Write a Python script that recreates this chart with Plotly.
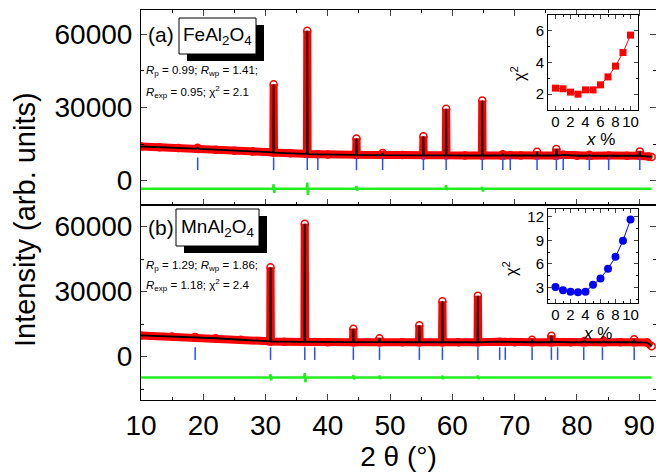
import plotly.graph_objects as go

# ---------------- data ----------------
# Panel (a) FeAl2O4 : observed / calculated profile vertices (2theta, intensity)
fe_tt = [10, 13, 16, 18.9, 19.1, 19.3, 22, 25, 28, 31.24, 31.3, 31.36, 34, 36.64, 36.7, 36.76,
         38.4, 40, 44.54, 44.6, 44.66, 48.7, 48.8, 48.9, 52, 55.29, 55.35, 55.41, 58.94, 59.0,
         59.06, 62, 64.74, 64.8, 64.86, 67.9, 68.1, 68.3, 69.3, 71, 73.5, 73.6, 73.7, 76.6,
         76.7, 76.8, 77.8, 80, 81.8, 82.0, 82.2, 85.1, 88, 90.0, 90.1, 90.2, 91.5, 92.0]
fe_obs = [14000, 13700, 13400, 13100, 13500, 13000, 12700, 12300, 11900, 11600, 39500, 11500,
          11200, 11000, 61500, 10900, 10800, 10700, 10600, 17300, 10600, 10500, 11300, 10500,
          10500, 10400, 18200, 10400, 10400, 29500, 10400, 10300, 10300, 32900, 10300, 10300,
          10800, 10300, 10400, 10300, 10300, 11800, 10300, 10300, 13000, 10300, 10600, 10200,
          10200, 10600, 10200, 10300, 10200, 10200, 12000, 10100, 9900, 9700]
fe_calc = fe_obs
fe_diff_tt = [10, 31.2, 31.3, 31.4, 31.5, 36.6, 36.7, 36.8, 36.9, 44.5, 44.6, 44.7, 44.8,
              58.9, 59.0, 59.1, 59.2, 64.7, 64.8, 64.9, 65.0, 92]
fe_diff = [-3300, -3300, -1500, -5000, -3300, -3300, -800, -5900, -3300, -3300, -2300, -4100,
           -3300, -3300, -1900, -3800, -3300, -3300, -2600, -4500, -3300, -3300]
fe_bragg = [19.1, 31.3, 36.7, 38.4, 44.6, 48.8, 55.35, 59.0, 64.8, 68.1, 69.3, 73.6, 76.7,
            77.8, 82.0, 85.1, 90.1]

# Panel (b) MnAl2O4
mn_tt = [10, 15, 18.6, 18.7, 18.8, 22, 26, 30.74, 30.8, 30.86, 33, 36.24, 36.3, 36.36, 37.9,
         40, 44.04, 44.1, 44.16, 48.2, 48.3, 48.4, 52, 54.64, 54.7, 54.76, 58.34, 58.4, 58.46,
         61, 64.04, 64.1, 64.16, 67.6, 68.5, 70, 72.7, 72.8, 72.9, 75.8, 75.9, 76.0, 76.9,
         79, 81.0, 81.2, 81.4, 84.1, 84.3, 84.5, 87, 89.1, 89.2, 89.3, 91.3, 92.0]
mn_obs = [9800, 9300, 8900, 9100, 8850, 8500, 7800, 7100, 41300, 7000, 6900, 6800, 61300,
          6800, 6800, 6700, 6700, 12900, 6700, 6700, 8500, 6700, 6650, 6650, 14500, 6650, 6650,
          25600, 6650, 6650, 6650, 28100, 6650, 6900, 6800, 6650, 6650, 7800, 6650, 6650, 9700,
          6650, 6800, 6650, 6650, 7200, 6650, 6650, 7200, 6650, 6650, 6650, 8000, 6650, 6500,
          4800]
mn_calc = mn_obs
mn_diff_tt = [10, 30.7, 30.8, 30.9, 31.0, 36.2, 36.3, 36.4, 36.5, 44.0, 44.1, 44.2, 44.3,
              48.2, 48.3, 48.4, 48.5, 58.3, 58.4, 58.5, 58.6, 64.0, 64.1, 64.2, 64.3, 92]
mn_diff = [-9600, -9600, -8100, -10900, -9600, -9600, -7600, -11800, -9600, -9600, -8600,
           -10400, -9600, -9600, -8700, -10300, -9600, -9600, -8800, -10400, -9600, -9600,
           -8700, -10300, -9600, -9600]
mn_bragg = [18.7, 30.8, 36.3, 37.9, 44.1, 48.3, 54.7, 58.4, 64.1, 67.6, 68.5, 72.8, 75.9,
            76.9, 81.1, 84.1, 89.2]

# Insets: chi^2 vs x %
inset_x = [0, 1, 2, 3, 4, 5, 6, 7, 8, 9, 10]
fe_chi2 = [2.38, 2.34, 2.13, 2.0, 2.27, 2.27, 2.59, 3.09, 3.77, 4.63, 5.73]
mn_chi2 = [3.04, 2.62, 2.45, 2.37, 2.45, 3.34, 4.14, 5.37, 6.89, 8.96, 11.66]

main_xticks = [10, 20, 30, 40, 50, 60, 70, 80, 90]
fe_label = "FeAl<sub>2</sub>O<sub>4</sub>"
mn_label = "MnAl<sub>2</sub>O<sub>4</sub>"
fe_stats = ["<i>R</i><sub>p</sub> = 0.99; <i>R</i><sub>wp</sub> = 1.41;",
            "<i>R</i><sub>exp</sub> = 0.95; χ<sup>2</sup> = 2.1"]
mn_stats = ["<i>R</i><sub>p</sub> = 1.29; <i>R</i><sub>wp</sub> = 1.86;",
            "<i>R</i><sub>exp</sub> = 1.18; χ<sup>2</sup> = 2.4"]

# ---------------- geometry (pixels) ----------------
W, H = 656, 474
L, R, T, B = 141, 0, 10, 74
PW, PH = W - L - R, H - T - B


def px(x):
    return (x - L) / PW


def py(y):
    return (H - B - y) / PH


FONT = "Liberation Sans, Arial, sans-serif"
RED = "#ff0000"
BLUE_T = "#2a4dff"
GREEN = "#22ee22"

fig = go.Figure()

panels = [
    (fe_tt, fe_obs, fe_calc, fe_diff_tt, fe_diff, fe_bragg, 6900, "x", "y"),
    (mn_tt, mn_obs, mn_calc, mn_diff_tt, mn_diff, mn_bragg, 1400, "x2", "y2"),
]
for tt, obs, calc, dtt, diff, bragg, by, xa, ya in panels:
    fig.add_trace(go.Scatter(x=tt, y=obs, mode="lines+markers", xaxis=xa, yaxis=ya,
                             line=dict(color=RED, width=8),
                             marker=dict(symbol="circle-open", size=7, color=RED,
                                         line=dict(width=1.5, color=RED))))
    fig.add_trace(go.Scatter(x=tt, y=calc, mode="lines", xaxis=xa, yaxis=ya,
                             line=dict(color="black", width=1.8)))
    fig.add_trace(go.Scatter(x=dtt, y=diff, mode="lines", xaxis=xa, yaxis=ya,
                             line=dict(color=GREEN, width=2.5)))
    fig.add_trace(go.Scatter(x=bragg, y=[by] * len(bragg), mode="markers", xaxis=xa, yaxis=ya,
                             marker=dict(symbol="line-ns", size=9,
                                         line=dict(width=1.5, color=BLUE_T))))

fig.add_trace(go.Scatter(x=inset_x, y=fe_chi2, mode="lines+markers", xaxis="x3", yaxis="y3",
                         line=dict(color=RED, width=1),
                         marker=dict(symbol="square", size=7, color=RED)))
fig.add_trace(go.Scatter(x=inset_x, y=mn_chi2, mode="lines+markers", xaxis="x4", yaxis="y4",
                         line=dict(color="#0000ff", width=1),
                         marker=dict(symbol="circle", size=8, color="#0000ff")))

tickfont_main = dict(family=FONT, size=28, color="black")
tickfont_in = dict(family=FONT, size=15, color="black")

main_x_common = dict(range=[10, 92.7], tickvals=main_xticks, ticks="inside", ticklen=6,
                     tickwidth=1, showline=True, linecolor="black", linewidth=1,
                     showgrid=False, zeroline=False,
                     minor=dict(dtick=5, tick0=0, ticks="inside", ticklen=3, tickcolor="black"))
main_y_common = dict(tickvals=[0, 30000, 60000], ticktext=["0", "30000", "60000"],
                     ticks="inside", ticklen=6, tickwidth=1, showline=True,
                     linecolor="black", linewidth=1, showgrid=False, zeroline=False,
                     mirror="allticks", tickfont=tickfont_main, ticklabelstandoff=2,
                     minor=dict(dtick=15000, tick0=0, ticks="inside", ticklen=3,
                                tickcolor="black"))
inset_common = dict(ticks="inside", ticklen=4, showline=True, linecolor="black", linewidth=1,
                    showgrid=False, zeroline=False, mirror="allticks", tickfont=tickfont_in)

fig.update_layout(
    width=W, height=H, margin=dict(l=L, r=R, t=T, b=B),
    paper_bgcolor="white", plot_bgcolor="white", showlegend=False,
    font=dict(family=FONT, color="black"),
    xaxis=dict(domain=[0, 1], anchor="y", showticklabels=False, mirror="allticks",
               **main_x_common),
    yaxis=dict(domain=[0.5, 1], anchor="x", range=[-10000, 70000], **main_y_common),
    xaxis2=dict(domain=[0, 1], anchor="y2", mirror=True, tickfont=tickfont_main,
                ticklabelstandoff=0,
                title=dict(text="2 θ (°)", font=dict(family=FONT, size=28), standoff=4),
                **main_x_common),
    yaxis2=dict(domain=[0, 0.5], anchor="x2", range=[-20000, 70000], **main_y_common),
    xaxis3=dict(domain=[px(548), px(638)], anchor="y3", range=[-1, 11], dtick=2, tick0=0,
                ticklabelstandoff=-2,
                minor=dict(dtick=1, ticks="inside", ticklen=2, tickcolor="black"),
                **inset_common),
    yaxis3=dict(domain=[py(110), py(15)], anchor="x3", range=[1, 7], dtick=2, tick0=0,
                minor=dict(dtick=1, ticks="inside", ticklen=2, tickcolor="black"),
                **inset_common),
    xaxis4=dict(domain=[px(548), px(638)], anchor="y4", range=[-1, 11], dtick=2, tick0=0,
                ticklabelstandoff=-2,
                minor=dict(dtick=1, ticks="inside", ticklen=2, tickcolor="black"),
                **inset_common),
    yaxis4=dict(domain=[py(303), py(209)], anchor="x4", range=[1, 13], dtick=3, tick0=0,
                minor=dict(dtick=1.5, ticks="inside", ticklen=2, tickcolor="black"),
                **inset_common),
)

shapes = []
annos = []
for (bx0, by0, bx1, by1), lab, tag, ty, stats, sy in [
    ((179, 18, 256, 54), fe_label, "(a)", 34, fe_stats, (71, 92)),
    ((176, 209, 259, 246), mn_label, "(b)", 227, mn_stats, (266, 285)),
]:
    shapes.append(dict(type="rect", xref="paper", yref="paper", x0=px(bx0 + 8), x1=px(bx1 + 8),
                       y0=py(by1 + 7), y1=py(by0 + 7), fillcolor="black",
                       line=dict(width=0)))
    shapes.append(dict(type="rect", xref="paper", yref="paper", x0=px(bx0), x1=px(bx1),
                       y0=py(by1), y1=py(by0), fillcolor="white",
                       line=dict(width=1, color="black")))
    annos.append(dict(x=px((bx0 + bx1) / 2), y=py((by0 + by1) / 2), xref="paper", yref="paper",
                      text=lab, showarrow=False, font=dict(size=19, family=FONT),
                      xanchor="center", yanchor="middle"))
    annos.append(dict(x=px(146), y=py(ty), xref="paper", yref="paper", text=tag,
                      showarrow=False, font=dict(size=21, family=FONT),
                      xanchor="left", yanchor="middle"))
    for s, yy in zip(stats, sy):
        annos.append(dict(x=px(144), y=py(yy), xref="paper", yref="paper", text=s,
                          showarrow=False, font=dict(size=11.5, family=FONT),
                          xanchor="left", yanchor="middle"))

# inset axis titles
for (cx, cy), (ux, uy) in [((518, 74), (600, 139)), ((510, 269), (597, 333))]:
    annos.append(dict(x=px(cx), y=py(cy), xref="paper", yref="paper", text="χ<sup>2</sup>",
                      showarrow=False, textangle=-90, font=dict(size=16, family=FONT),
                      xanchor="center", yanchor="middle"))
    annos.append(dict(x=px(ux), y=py(uy), xref="paper", yref="paper", text="<i>x</i> %",
                      showarrow=False, font=dict(size=17, family=FONT),
                      xanchor="center", yanchor="middle"))

annos.append(dict(x=px(25), y=py(220), xref="paper", yref="paper",
                  text="Intensity (arb. units)", showarrow=False, textangle=-90,
                  font=dict(size=29, family=FONT), xanchor="center", yanchor="middle"))

fig.update_layout(shapes=shapes, annotations=annos)
fig.write_html("out.html", config={"displayModeBar": False},
               post_script="document.body.style.margin='0';"
                           "document.body.style.overflow='hidden';")
